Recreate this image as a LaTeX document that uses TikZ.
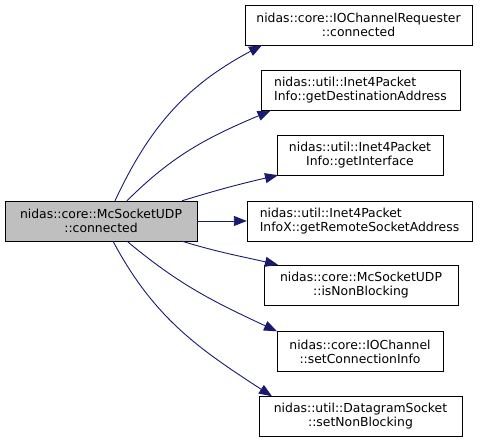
\documentclass[tikz,border=0pt]{standalone}
\usepackage{fontspec}
\setmainfont{DejaVu Sans}
\usetikzlibrary{arrows.meta,positioning,calc}
\definecolor{callblue}{HTML}{191970}
\definecolor{srcgray}{HTML}{BFBFBF}

\begin{document}
\begin{tikzpicture}[x=1pt, y=1pt, ->, >={Triangle[length=13pt,width=10pt]},
    fn/.style={draw, rectangle, inner sep=0pt, minimum height=40pt, align=center,
               font=\fontsize{12.4}{14}\selectfont},
    call/.style={callblue, line width=0.9pt}]
  \useasboundingbox (0,0) rectangle (480,443);
  \node[fn, fill=srcgray, minimum width=192pt] (McConn) at (101,222) {nidas::core::McSocketUDP\\::connected};

  \node[fn, minimum width=227pt] (ReqConn) at (358.5,418) {nidas::core::IOChannelRequester\\::connected};
  \node[fn, minimum width=199pt, align=left] (DestAddr) at (360.5,352.5) {nidas::util::Inet4Packet\\Info::getDestinationAddress};
  \node[fn, minimum width=166pt] (GetIface) at (360,288) {nidas::util::Inet4Packet\\Info::getInterface};
  \node[fn, minimum width=225pt, align=left] (RemAddr) at (359.5,222) {nidas::util::Inet4Packet\\InfoX::getRemoteSocketAddress};
  \node[fn, minimum width=194pt] (IsNonBlk) at (361,158) {nidas::core::McSocketUDP\\::isNonBlocking};
  \node[fn, minimum width=166pt] (SetConn) at (360,91.5) {nidas::core::IOChannel\\::setConnectionInfo};
  \node[fn, minimum width=203pt] (SetNonBlk) at (360.5,26.5) {nidas::util::DatagramSocket\\::setNonBlocking};

  \draw[call] ([xshift=14pt]McConn.north) to[out=65, in=208] ([xshift=-96.5pt]ReqConn.south);
  \draw[call] ([xshift=26pt]McConn.north) to[out=45, in=203] ([xshift=-90pt]DestAddr.south);
  \draw[call] ([xshift=81pt]McConn.north) to[out=17, in=193] ([xshift=-82pt]GetIface.south);
  \draw[call] (McConn.east) -- (RemAddr.west);
  \draw[call] ([xshift=81pt]McConn.south) to[out=-17, in=167] ([xshift=-83pt]IsNonBlk.north);
  \draw[call] ([xshift=26pt]McConn.south) to[out=-40, in=155] ([xshift=-83pt]SetConn.north);
  \draw[call] ([xshift=12pt]McConn.south) to[out=-62, in=147] ([xshift=-88.5pt]SetNonBlk.north);
\end{tikzpicture}
\end{document}
